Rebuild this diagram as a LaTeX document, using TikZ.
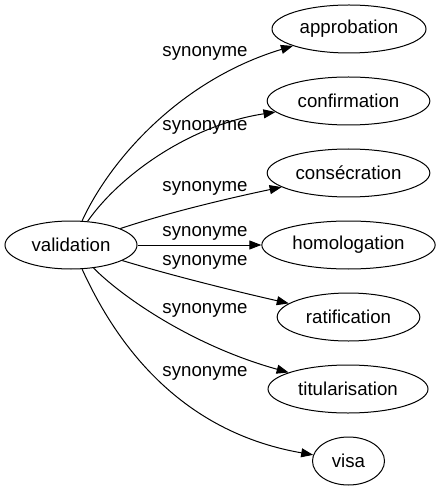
\documentclass[tikz,border=0pt]{standalone}
\usepackage{fontspec}
\setmainfont{Liberation Sans}
\usetikzlibrary{arrows.meta,shapes.geometric}
\begin{document}
\begin{tikzpicture}[x=0.75pt,y=-0.75pt,
  every node/.style={font=\fontsize{14pt}{16pt}\selectfont},
  nd/.style={draw, ellipse, line width=0.75pt, minimum height=36pt, inner sep=0pt},
  lbl/.style={inner sep=0pt},
  edge/.style={line width=0.75pt, -{Triangle[length=9pt,width=6.75pt]}}]
\useasboundingbox (0,0) rectangle (440,491);
\node[nd, minimum width=99pt] (v) at (71,245) {validation};
\node[nd, minimum width=115.5pt] (a) at (349,29) {approbation};
\node[nd, minimum width=122pt] (c) at (348.5,101) {confirmation};
\node[nd, minimum width=122pt] (s) at (348.5,173) {consécration};
\node[nd, minimum width=130pt] (h) at (348.5,245) {homologation};
\node[nd, minimum width=107pt] (r) at (348.5,317) {ratification};
\node[nd, minimum width=120pt] (t) at (348,389) {titularisation};
\node[nd, minimum width=54pt] (w) at (348.5,461) {visa};
\draw[edge] (v) .. controls (110,160) and (180,80) .. (a);
\draw[edge] (v) .. controls (120,175) and (190,125) .. (c);
\draw[edge] (v) .. controls (170,212) and (230,198) .. (s);
\draw[edge] (v) -- (h);
\draw[edge] (v) .. controls (170,275) and (230,290) .. (r);
\draw[edge] (v) .. controls (120,295) and (190,345) .. (t);
\draw[edge] (v) .. controls (110,330) and (170,430) .. (w);
\node[lbl] (l1) at (205,53) {synonyme};
\node[lbl] (l2) at (205,127) {synonyme};
\node[lbl] (l3) at (205,188) {synonyme};
\node[lbl] (l4) at (205,233) {synonyme};
\node[lbl] (l5) at (205,262) {synonyme};
\node[lbl] (l6) at (205,310) {synonyme};
\node[lbl] (l7) at (205,373) {synonyme};
\end{tikzpicture}
\end{document}
